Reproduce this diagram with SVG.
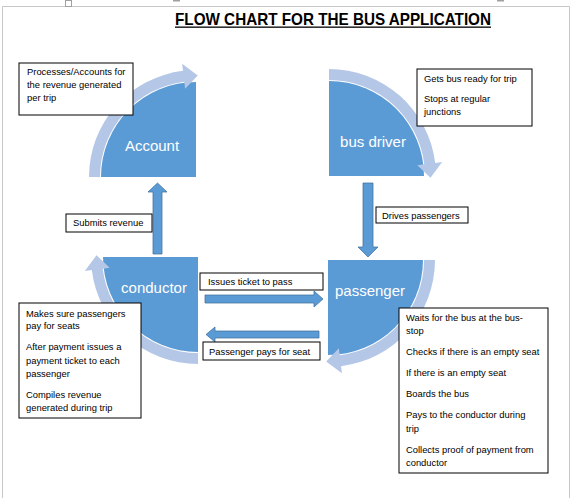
<svg xmlns="http://www.w3.org/2000/svg" width="573" height="498" viewBox="0 0 573 498">
<style>
.dark{fill:#5B9BD5}
.band{fill:#B4C7E7}
.blk{fill:#5B9BD5;stroke:#41719C;stroke-width:0.75}
.box{fill:#fff;stroke:#000;stroke-width:1}
.t{font-family:"Liberation Sans",Arial,sans-serif;font-size:9.4px;fill:#000}
.lbl{font-family:"Liberation Sans",Arial,sans-serif;font-size:15px;fill:#fff;text-anchor:middle}
.frame{fill:none;stroke:#c8c8c8;stroke-width:1}
</style>
<rect width="573" height="498" fill="#fff"/>
<g id="page">
<path class="frame" d="M2.5,498 V6.5 H569.5 V498"/>
<rect x="65.5" y="0.5" width="6" height="6" fill="#fff" stroke="#a0a0a0"/>
<rect x="173" y="0" width="7" height="1.5" fill="#a0a0a0"/>
<rect x="497" y="0" width="7" height="1.5" fill="#a0a0a0"/>
</g>
<g id="title">
<text x="175" y="25" textLength="316" lengthAdjust="spacingAndGlyphs" style="font-family:'Liberation Sans',Arial,sans-serif;font-size:17px;font-weight:bold;fill:#000">FLOW CHART FOR THE BUS APPLICATION</text>
<rect x="175" y="26.5" width="316" height="1.3" fill="#000"/>
</g>
<g id="account">
<path class="dark" d="M196,177 L101,177 A95,95 0 0 1 196,82 Z"/>
<path class="band" d="M89,177 A107,107 0 0 1 182.96,70.80 L182.11,63.85 L197.77,75.52 L185.15,88.66 L184.30,81.72 A96,96 0 0 0 100,177 Z"/>
<text class="lbl" x="152" y="151">Account</text>
</g>
<g id="busdriver">
<path class="dark" d="M329,176 L329,81 A95,95 0 0 1 424,176 Z"/>
<path class="band" d="M329,69 A107,107 0 0 1 435.20,162.96 L442.15,162.11 L430.48,177.77 L417.34,165.15 L424.28,164.30 A96,96 0 0 0 329,80 Z"/>
<text class="lbl" x="373" y="147">bus driver</text>
</g>
<g id="conductor">
<path class="dark" d="M198,257 L198,352 A95,95 0 0 1 103,257 Z"/>
<path class="band" d="M198,364 A107,107 0 0 1 91.80,270.04 L84.85,270.89 L96.52,255.23 L109.66,267.85 L102.72,268.70 A96,96 0 0 0 198,353 Z"/>
<text class="lbl" x="154" y="293">conductor</text>
</g>
<g id="passenger">
<path class="dark" d="M328,260 L423,260 A95,95 0 0 1 328,355 Z"/>
<path class="band" d="M435,260 A107,107 0 0 1 341.04,366.20 L341.89,373.15 L326.23,361.48 L338.85,348.34 L339.70,355.28 A96,96 0 0 0 424,260 Z"/>
<text class="lbl" x="370" y="296">passenger</text>
</g>
<g id="connectors">
<polygon class="blk" points="153,254 153,192 148,192 157.5,183 167,192 162,192 162,254"/>
<polygon class="blk" points="363,183 373,183 373,247 378,247 368,257 358,247 363,247"/>
<polygon class="blk" points="205,295 314,295 314,291 323,299 314,307 314,303 205,303"/>
<polygon class="blk" points="319,331 215,331 215,327 206,334.5 215,342 215,338 319,338"/>
</g>
<g id="note-account">
<rect class="box" x="19" y="63" width="114" height="52"/>
<text class="t" x="27" y="75">Processes/Accounts for</text>
<text class="t" x="27" y="88">the revenue generated</text>
<text class="t" x="27" y="101">per trip</text>
</g>
<g id="note-busdriver">
<rect class="box" x="417" y="69" width="115" height="57"/>
<text class="t" x="424" y="82">Gets bus ready for trip</text>
<text class="t" x="424" y="102">Stops at regular</text>
<text class="t" x="424" y="115">junctions</text>
</g>
<g id="label-submits">
<rect class="box" x="66" y="214" width="86" height="18"/>
<text class="t" x="73" y="226">Submits revenue</text>
</g>
<g id="label-drives">
<rect class="box" x="376" y="207" width="92" height="16"/>
<text class="t" x="382" y="218.5">Drives passengers</text>
</g>
<g id="label-issues">
<rect class="box" x="200" y="273" width="123" height="17"/>
<text class="t" x="208" y="285">Issues ticket to pass</text>
</g>
<g id="label-pays">
<rect class="box" x="203" y="342" width="117" height="18"/>
<text class="t" x="209" y="355">Passenger pays for seat</text>
</g>
<g id="note-conductor">
<rect class="box" x="19" y="303" width="122" height="115"/>
<text class="t" x="26" y="316.5">Makes sure passengers</text>
<text class="t" x="26" y="329">pay for seats</text>
<text class="t" x="26" y="350">After payment issues a</text>
<text class="t" x="26" y="364">payment ticket to each</text>
<text class="t" x="26" y="377">passenger</text>
<text class="t" x="26" y="398">Compiles revenue</text>
<text class="t" x="26" y="411">generated during trip</text>
</g>
<g id="note-passenger">
<rect class="box" x="399" y="308" width="149" height="165"/>
<text class="t" x="406" y="320.5">Waits for the bus at the bus-</text>
<text class="t" x="406" y="333.5">stop</text>
<text class="t" x="406" y="354.5">Checks if there is an empty seat</text>
<text class="t" x="406" y="375.5">If there is an empty seat</text>
<text class="t" x="406" y="396.5">Boards the bus</text>
<text class="t" x="406" y="417.5">Pays to the conductor during</text>
<text class="t" x="406" y="431.5">trip</text>
<text class="t" x="406" y="452.5">Collects proof of payment from</text>
<text class="t" x="406" y="465.5">conductor</text>
</g>
</svg>
